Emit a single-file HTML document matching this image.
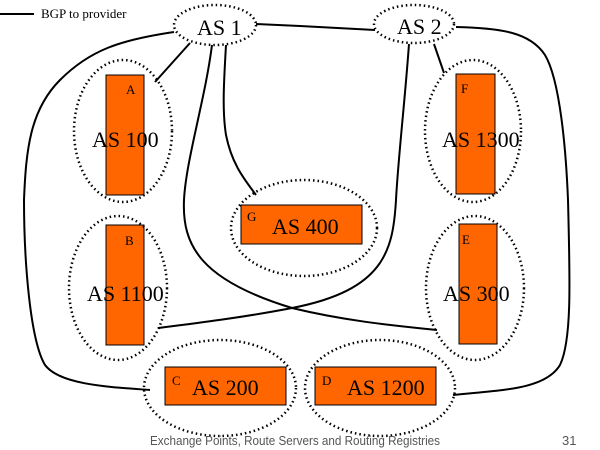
<!DOCTYPE html>
<html><head><meta charset="utf-8"><style>
html,body{margin:0;padding:0;background:#fff;width:600px;height:450px;overflow:hidden}
svg{display:block}
.t{font-family:"Liberation Serif",serif;fill:#000}
</style></head><body>
<svg width="600" height="450" viewBox="0 0 600 450" xmlns="http://www.w3.org/2000/svg">
<g fill="none" stroke="#000" stroke-width="2">
<line x1="0" y1="14" x2="34" y2="14"/>
<path d="M174,32 C120,40 90,50 60,80 C30,110 26,150 24,200 C24,260 30,340 45,365 C60,385 110,387 150,390"/>
<line x1="190" y1="43" x2="155" y2="82"/>
<path d="M256,24 L300,26 L375,30"/>
<path d="M212,45 C205,100 186,160 184,200 C182,245 200,280 292,308 C350,322 400,326 437,330"/>
<path d="M226,45 C224,80 222,110 226,135 C232,165 245,180 256,195"/>
<path d="M409,44 C405,100 398,160 396,200 C393,250 385,290 292,308 C240,318 190,324 158,328"/>
<line x1="434" y1="44" x2="444" y2="73"/>
<path d="M456,27 C500,28 530,32 545,55 C560,80 566,150 568,200 C570,280 572,340 560,365 C545,390 500,390 453,395"/>
</g>
<g fill="#ff6600" stroke="#000" stroke-width="1">
<rect x="106" y="75" width="38" height="120"/>
<rect x="456" y="74" width="39" height="120"/>
<rect x="241" y="205" width="121" height="39"/>
<rect x="106" y="225" width="38" height="120"/>
<rect x="459" y="224" width="38" height="120"/>
<rect x="165" y="367" width="121" height="38"/>
<rect x="315" y="367" width="121" height="38"/>
</g>
<g fill="none" stroke="#000" stroke-width="2.5" stroke-dasharray="1.5,3">
<ellipse cx="215" cy="25" rx="41" ry="20"/>
<ellipse cx="414" cy="24" rx="40" ry="19"/>
<ellipse cx="123" cy="131" rx="49" ry="71"/>
<ellipse cx="473" cy="131" rx="48" ry="71"/>
<ellipse cx="304" cy="228" rx="73" ry="48"/>
<ellipse cx="118" cy="288" rx="49" ry="72"/>
<ellipse cx="475" cy="288" rx="49" ry="72"/>
<ellipse cx="220" cy="388" rx="76" ry="48"/>
<ellipse cx="380" cy="388" rx="75" ry="48"/>
</g>
<text class="t" x="41" y="18" font-size="13">BGP to provider</text>
<text class="t" x="197" y="35" font-size="22">AS 1</text>
<text class="t" x="397" y="34" font-size="22">AS 2</text>
<text class="t" x="126" y="94" font-size="13">A</text>
<text class="t" x="92" y="147" font-size="22">AS 100</text>
<text class="t" x="461" y="93" font-size="13">F</text>
<text class="t" x="442" y="147" font-size="22">AS 1300</text>
<text class="t" x="247" y="221" font-size="13">G</text>
<text class="t" x="272" y="234" font-size="22">AS 400</text>
<text class="t" x="125" y="245" font-size="13">B</text>
<text class="t" x="87" y="301" font-size="22">AS 1100</text>
<text class="t" x="462" y="244" font-size="13">E</text>
<text class="t" x="443" y="301" font-size="22">AS 300</text>
<text class="t" x="172" y="385" font-size="13">C</text>
<text class="t" x="192" y="395" font-size="22">AS 200</text>
<text class="t" x="322" y="385" font-size="13">D</text>
<text class="t" x="347" y="395" font-size="22">AS 1200</text>
<text x="150" y="445" font-size="13" fill="#555" font-family="Liberation Sans,sans-serif" textLength="290" lengthAdjust="spacingAndGlyphs">Exchange Points, Route Servers and Routing Registries</text>
<text x="562" y="445" font-size="13" fill="#555" font-family="Liberation Sans,sans-serif">31</text>
</svg>
</body></html>
